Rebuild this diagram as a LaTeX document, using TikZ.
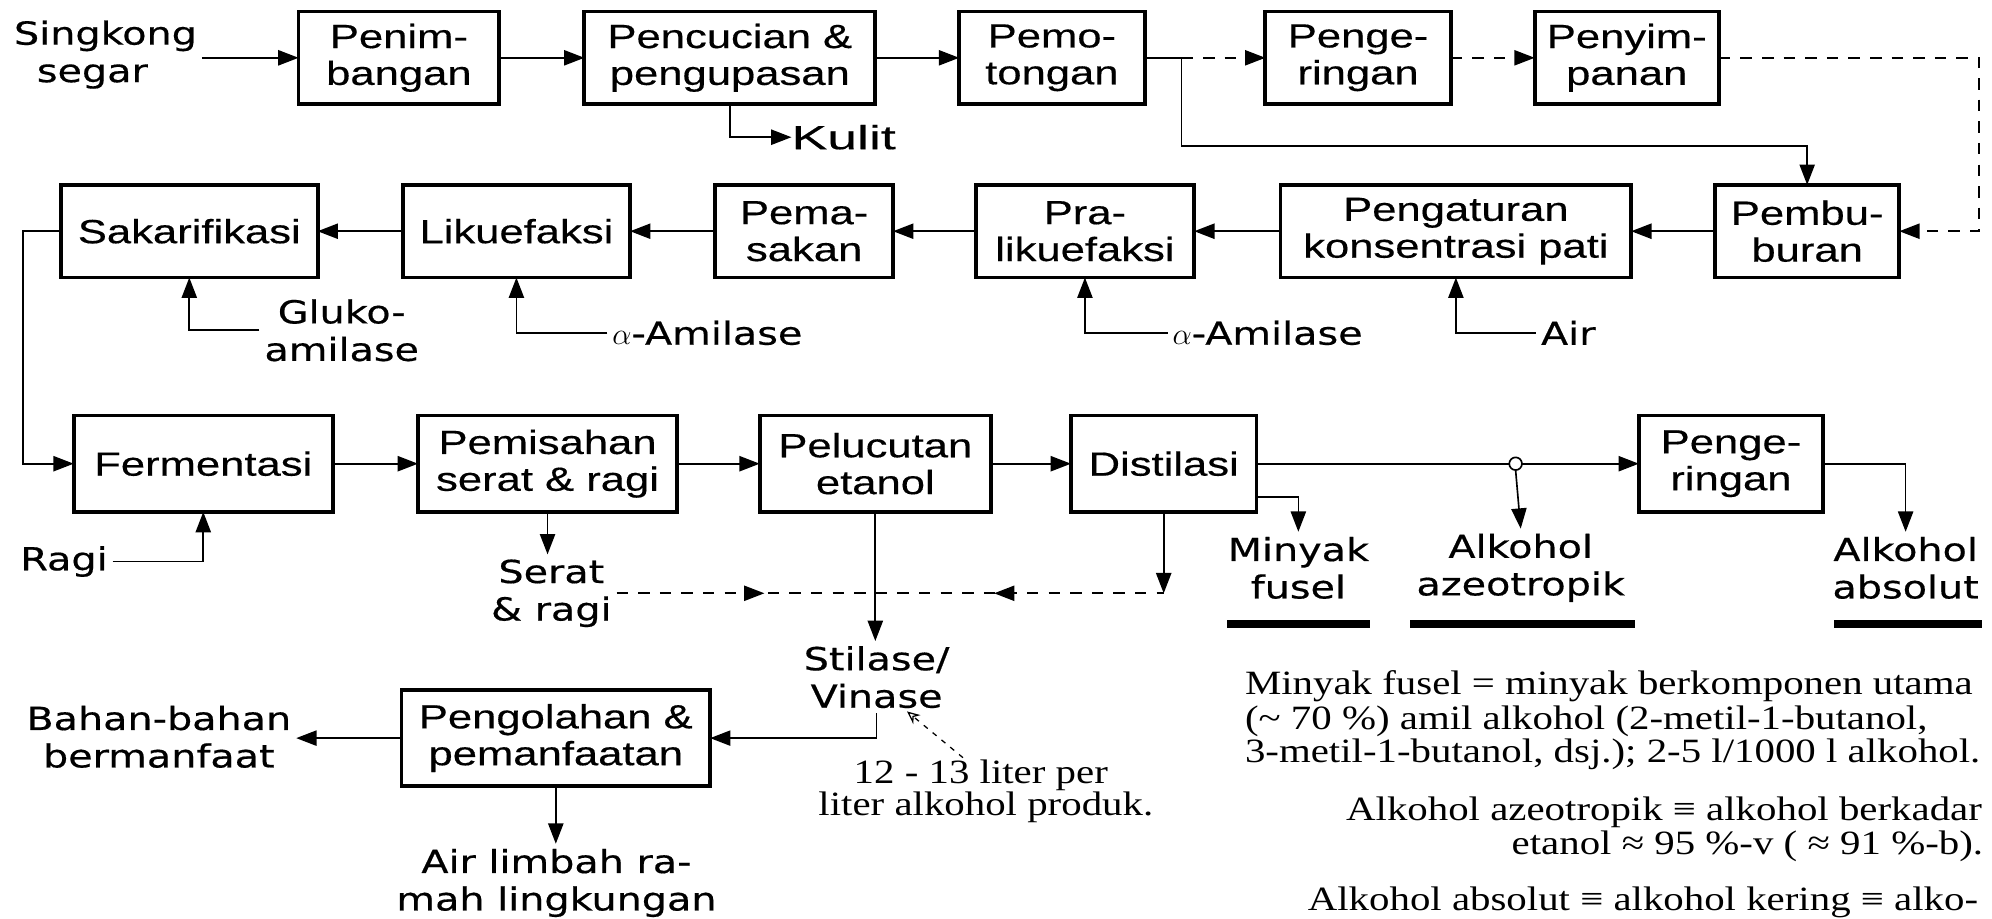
\documentclass[tikz,border=0pt]{standalone}
\usepackage{fontspec}
\usetikzlibrary{arrows.meta,calc,decorations.markings}
\newfontfamily\boxfont[FakeStretch=1.3,FakeBold=0.4]{Liberation Sans}
\newfontfamily\widefont[FakeStretch=1.6,FakeBold=0.4]{Liberation Sans}
\newfontfamily\labfont[FakeStretch=1.25,FakeBold=0.5]{DejaVu Sans}
\newfontfamily\notefont[FakeStretch=1.2]{Liberation Serif}

\tikzset{
  every node/.style={inner sep=0pt, outer sep=0pt},
  proc/.style={draw, line width=1.5pt, align=center,
    font=\boxfont\fontsize{13.2}{14.5}\selectfont, minimum height=36.5pt},
  lab/.style={align=center, inner sep=2pt,
    font=\labfont\fontsize{12.5}{14.75}\selectfont},
  note/.style={font=\notefont\fontsize{13.4}{14}\selectfont},
  conn/.style={line width=0.65pt},
  arr/.style={conn, -{Triangle[length=8pt,width=6pt]}},
  dsh/.style={dash pattern=on 4.5pt off 4pt},
  bar/.style={line width=3pt},
  ptr/.style={line width=0.5pt, dash pattern=on 2pt off 2.5pt,
    -{Stealth[open,length=5pt,width=4.5pt]}},
  twoway/.style={postaction={decorate}, decoration={markings,
    mark=at position 0.27 with {\arrow{Triangle[length=8pt,width=6pt]}},
    mark=at position 0.69 with {\arrowreversed{Triangle[length=8pt,width=6pt]}}}},
}

\begin{document}
\begin{tikzpicture}[x=0.5pt, y=-0.5pt]
\fill[white] (0,0) rectangle (1568,723);
\useasboundingbox (0,0) rectangle (1568,723);

% ---- row 1: raw material handling
\node[lab, align=left] (singkong) at (83,43) {Singkong\\\makebox[9pt]{}segar};
\node[proc, minimum width=79pt]    (pen1)    at (314,45.5)  {Penim-\\bangan};
\node[proc, minimum width=114.5pt] (cuci)    at (574.5,45.5) {Pencucian \&\\pengupasan};
\node[proc, minimum width=73pt]    (potong)  at (828,45.5)  {Pemo-\\tongan};
\node[proc, minimum width=73pt]    (kering1) at (1069,45.5) {Penge-\\ringan};
\node[proc, minimum width=72.5pt]  (simpan)  at (1280.5,45.5) {Penyim-\\panan};
\node[anchor=west, font=\widefont\fontsize{13.2}{14.5}\selectfont] (kulit) at (623,108) {Kulit};

% ---- row 2: starch preparation
\node[proc, minimum width=101pt]  (sakar)  at (149,182)    {Sakarifikasi};
\node[proc, minimum width=89.5pt] (likue)  at (406.5,182)  {Likuefaksi};
\node[proc, minimum width=70pt]   (masak)  at (633,182)    {Pema-\\sakan};
\node[proc, minimum width=86pt]   (pralik) at (854,182)    {Pra-\\likuefaksi};
\node[proc, minimum width=138pt]  (atur)   at (1146,182)   {Pengaturan\\konsentrasi pati};
\node[proc, minimum width=72.5pt] (bubur)  at (1422.5,182) {Pembu-\\buran};

\node[lab] (glu) at (269,260) {Gluko-\\amilase};
\node[lab, anchor=west] (amil1) at (478,262) {$\alpha$-Amilase};
\node[lab, anchor=west] (amil2) at (919,262) {$\alpha$-Amilase};
\node[lab, anchor=west] (air)   at (1209,262) {Air};

% ---- row 3: fermentation and distillation
\node[proc, minimum width=102pt, minimum height=38pt]  (ferm)    at (160,365)    {Fermentasi};
\node[proc, minimum width=102pt, minimum height=38pt]  (pisah)   at (431,365)    {Pemisahan\\serat \& ragi};
\node[proc, minimum width=91pt, minimum height=38pt]   (lucut)   at (689,365)    {Pelucutan\\etanol};
\node[proc, minimum width=73pt, minimum height=38pt]   (distil)  at (916,365)    {Distilasi};
\node[proc, minimum width=72.5pt, minimum height=38pt] (kering2) at (1362.5,365) {Penge-\\ringan};

\node[lab, anchor=west] (ragi) at (12,442) {Ragi};
\node[lab] (serat)   at (434,467)  {Serat\\\& ragi};
\node[lab] (fusel)   at (1022,447) {Minyak\\fusel};
\node[lab] (azeo)    at (1197,447) {Alkohol\\azeotropik};
\node[lab] (absolut) at (1500,447) {Alkohol\\absolut};
\coordinate (jn) at (1193,365);

% ---- row 4: stillage treatment
\node[lab] (stil) at (690,533) {Stilase/\\Vinase};
\node[proc, minimum width=121.5pt, minimum height=38pt] (olah) at (437.5,581) {Pengolahan \&\\pemanfaatan};
\node[lab] (bahan)  at (125,580) {Bahan-bahan\\bermanfaat};
\node[lab] (limbah) at (438,695) {Air limbah ra-\\mah lingkungan};

\node[note, anchor=base] (n12a) at (772,617) {12 - 13 liter per};
\node[note, anchor=base] (n12b) at (776,642) {liter alkohol produk.};

% ---- explanatory notes
\node[note, anchor=base west] (fa1) at (980,547)  {Minyak fusel = minyak berkomponen utama};
\node[note, anchor=base west] (fa2) at (980,574)  {(\textasciitilde\ 70 \%) amil alkohol (2-metil-1-butanol,};
\node[note, anchor=base west] (fa3) at (980,600.5) {3-metil-1-butanol, dsj.); 2-5 l/1000 l alkohol.};
\node[note, anchor=base east] (fb1) at (1560,646)  {Alkohol azeotropik ≡ alkohol berkadar};
\node[note, anchor=base east] (fb2) at (1561,673)  {etanol ≈ 95 \%-v ( ≈ 91 \%-b).};
\node[note, anchor=base east] (fc1) at (1557,717)  {Alkohol absolut ≡ alkohol kering ≡ alko-};

% ---- connectors, row 1
\draw[arr] (singkong.east |- pen1.west) -- (pen1.west);
\draw[arr] (pen1.east) -- (cuci.west);
\draw[arr] (cuci.east) -- (potong.west);
\draw[arr] (cuci.south) |- (kulit.west);
\coordinate (b1) at (930,45.5);
\coordinate (b2) at (930,115);
\coordinate (c1) at (1558,182);
\draw[conn] (potong.east) -- (b1);
\draw[arr, dsh] (b1) -- (kering1.west);
\draw[arr, dsh] (kering1.east) -- (simpan.west);
\draw[arr, dsh] (simpan.east) -| (c1) -- (bubur.east);
\draw[arr] (b1) -- (b2) -| (bubur.north);

% ---- connectors, row 2
\draw[arr] (bubur.west) -- (atur.east);
\draw[arr] (atur.west) -- (pralik.east);
\draw[arr] (pralik.west) -- (masak.east);
\draw[arr] (masak.west) -- (likue.east);
\draw[arr] (likue.west) -- (sakar.east);
\draw[arr] (glu.west) -| (sakar.south);
\draw[arr] (amil1.west) -| (likue.south);
\draw[arr] (amil2.west) -| (pralik.south);
\draw[arr] (air.west) -| (atur.south);
\coordinate (c2) at (18,365);
\draw[arr] (sakar.west) -| (c2) -- (ferm.west);

% ---- connectors, row 3
\draw[arr] (ferm.east) -- (pisah.west);
\draw[arr] (pisah.east) -- (lucut.west);
\draw[arr] (lucut.east) -- (distil.west);
\draw[arr] (ragi.east) -| (ferm.south);
\draw[arr] (pisah.south) -- (pisah.south |- serat.north);
\coordinate (d1) at (distil.south |- serat.east);
\draw[arr] (distil.south) -- (d1);
\draw[conn, dsh, twoway] (serat.east) -- (d1);
\draw[arr] (distil.east) -- (kering2.west);
\node[circle, draw, fill=white, line width=0.65pt, minimum size=5pt] (junc) at (jn) {};
\draw[arr] (junc.south) -- (azeo.north);
\coordinate (f0) at ($(distil.south east)+(0,-12)$);
\draw[arr] (f0) -| (fusel.north);
\draw[arr] (kering2.east) -| (absolut.north);
\draw[bar] ($(fusel)+(-56,44)$) -- ++(112,0);
\draw[bar] ($(azeo)+(-87,44)$) -- ++(177,0);
\draw[bar] ($(absolut)+(-56,44)$) -- ++(116,0);

% ---- connectors, row 4
\draw[arr] (lucut.south) -- (lucut.south |- stil.north);
\draw[arr] (stil.south) |- (olah.east);
\draw[arr] (olah.west) -- (bahan.east |- olah.west);
\draw[arr] (olah.south) -- (olah.south |- limbah.north);
\coordinate (vtip) at (714,560);
\draw[ptr] ($(n12a.north)+(-14,-2)$) -- (vtip);
\end{tikzpicture}
\end{document}
